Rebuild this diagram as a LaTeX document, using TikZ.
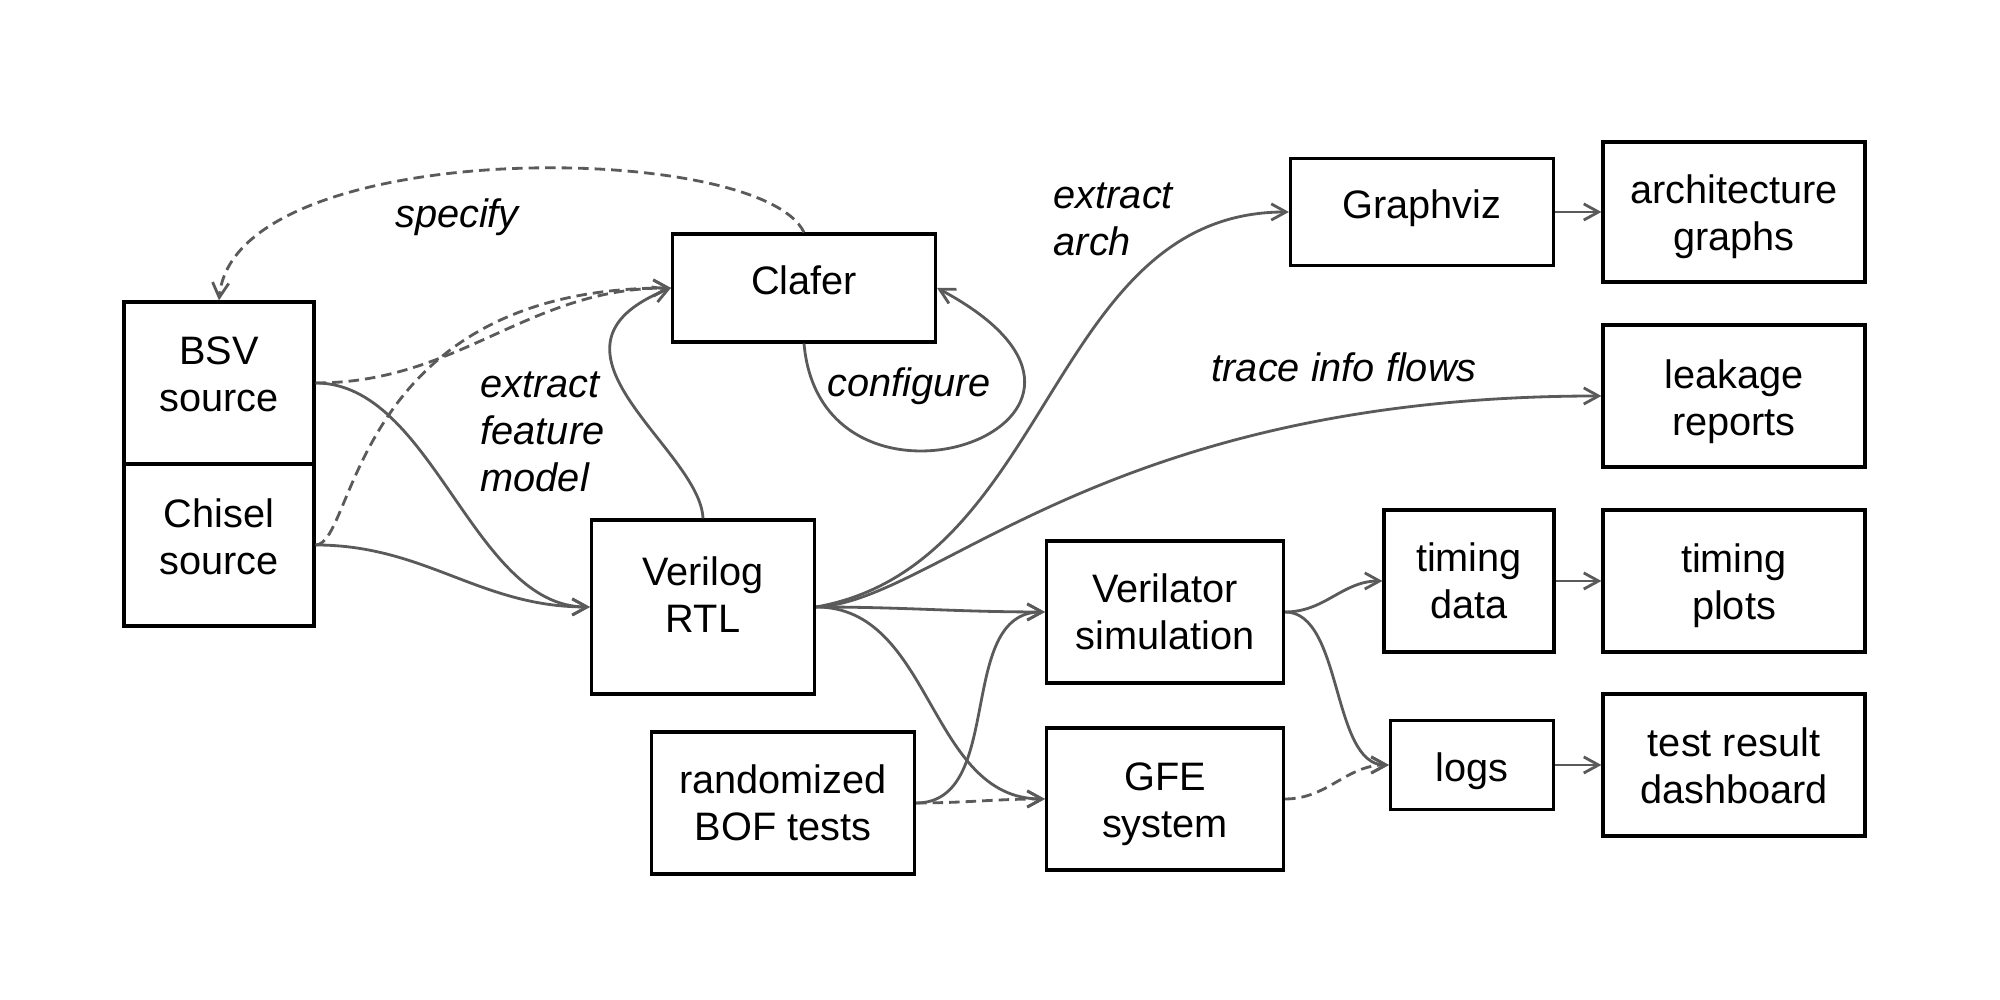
\documentclass[tikz,border=0pt]{standalone}
\usepackage{fontspec}
\setmainfont{Liberation Sans}
\usepackage{tikz}
\usetikzlibrary{arrows.meta,positioning}
\definecolor{edge}{RGB}{90,90,90}

\begin{document}
\begin{tikzpicture}[
        every node/.style={font=\fontsize{11.3}{13.4}\selectfont},
        box/.style={draw=black, line width=0.9pt, inner sep=0pt},
        boxtext/.style={align=center, inner sep=0pt},
        flow/.style={-{Straight Barb[length=4.2pt,width=4.6pt]}, draw=edge, line width=0.8pt},
        dflow/.style={flow, dash pattern=on 3pt off 1.7pt},
        note/.style={font=\fontsize{11.3}{13.4}\selectfont\itshape, align=left, inner sep=0pt}
    ]
        \useasboundingbox (0,0) rectangle (20,10);

        % Sources
        \node[box, minimum width=1.9cm, minimum height=1.62cm,
              label={[boxtext, yshift=0.09cm]center:BSV\\source}] (bsv) at (2.19,6.17) {};
        \node[box, minimum width=1.9cm, minimum height=1.62cm,
              label={[boxtext, yshift=0.08cm]center:Chisel\\source}] (chisel) at (2.19,4.55) {};
        \node[box, minimum width=2.63cm, minimum height=1.08cm,
              label={[boxtext, yshift=0.08cm]center:Clafer}] (clafer) at (8.04,7.12) {};
        \node[box, minimum width=2.23cm, minimum height=1.74cm,
              label={[boxtext, yshift=0.12cm]center:Verilog\\RTL}] (verilog) at (7.03,3.93) {};
        \node[box, minimum width=2.63cm, minimum height=1.42cm,
              label={[boxtext]center:randomized\\BOF tests}] (bof) at (7.83,1.97) {};

        % Tools
        \node[box, minimum width=2.37cm, minimum height=1.42cm,
              label={[boxtext]center:Verilator\\simulation}] (verilator) at (11.65,3.88) {};
        \node[box, minimum width=2.37cm, minimum height=1.42cm,
              label={[boxtext, yshift=-0.05cm]center:GFE\\system}] (gfe) at (11.65,2.01) {};
        \node[box, minimum width=2.63cm, minimum height=1.07cm,
              label={[boxtext, yshift=0.04cm]center:Graphviz}] (graphviz) at (14.22,7.88) {};
        \node[box, minimum width=1.7cm, minimum height=1.42cm,
              label={[boxtext]center:timing\\data}] (tdata) at (14.69,4.19) {};
        \node[box, minimum width=1.63cm, minimum height=0.89cm,
              label={[boxtext, yshift=-0.06cm]center:logs}] (logs) at (14.72,2.35) {};

        % Outputs
        \node[box, minimum width=2.62cm, minimum height=1.4cm,
              label={[boxtext, yshift=-0.05cm]center:architecture\\graphs}] (arch) at (17.34,7.88) {};
        \node[box, minimum width=2.62cm, minimum height=1.42cm,
              label={[boxtext, yshift=-0.06cm]center:leakage\\reports}] (leakage) at (17.34,6.04) {};
        \node[box, minimum width=2.62cm, minimum height=1.42cm,
              label={[boxtext, yshift=-0.05cm]center:timing\\plots}] (tplots) at (17.34,4.19) {};
        \node[box, minimum width=2.62cm, minimum height=1.42cm,
              label={[boxtext, yshift=-0.01cm]center:test result\\dashboard}] (dash) at (17.34,2.35) {};

        % Labels
        \node[note, anchor=base] (specifylbl) at (4.57,7.72) {specify};
        \node[note, anchor=west] (extractlbl) at (4.8,5.68) {extract\\feature\\model};
        \node[note, anchor=base] (configlbl) at (9.09,6.03) {configure};
        \node[note, anchor=west] (archlbl) at (10.53,7.81) {extract\\arch};
        \node[note, anchor=base west] (tracelbl) at (12.11,6.18) {trace info flows};

        % Feature model
        \draw[dflow] (clafer.north) .. controls +(-0.44,0.93) and +(0.15,1.65) .. (bsv.north);
        \draw[dflow] (bsv.east) to[out=0,in=180] (clafer.west);
        \draw[dflow] (chisel.east) .. controls +(0.4,0) and +(-3.2,0) .. (clafer.west);
        \draw[flow] (verilog.north) .. controls +(-0.03,0.7) and +(-1.5,-0.6) .. (clafer.west);
        \draw[flow] (clafer.south) .. controls +(0.18,-2.05) and +(2.47,-1.32) .. (clafer.east);

        % Compile to Verilog
        \draw[flow] (bsv.east) to[out=0,in=180,looseness=0.85] (verilog.west);
        \draw[flow] (chisel.east) to[out=0,in=180] (verilog.west);

        % From Verilog
        \draw[flow] (verilog.east) to[out=10,in=180] (graphviz.west);
        \draw[flow] (verilog.east) .. controls +(1.2,0.05) and +(-5.0,0) .. (leakage.west);
        \draw[flow] (verilog.east) to[out=0,in=180] (verilator.west);
        \draw[flow] (verilog.east) to[out=0,in=180] (gfe.west);

        % Tests
        \draw[flow] (bof.east) to[out=0,in=180] (verilator.west);
        \draw[dflow] (bof.east) to[out=0,in=180] (gfe.west);
        \draw[flow] (verilator.east) to[out=0,in=180] (tdata.west);
        \draw[flow] (verilator.east) to[out=0,in=180,looseness=0.8] (logs.west);
        \draw[dflow] (gfe.east) to[out=0,in=180] (logs.west);

        % Results
        \draw[flow] (graphviz) -- (arch);
        \draw[flow] (tdata) -- (tplots);
        \draw[flow] (logs.east) -- (dash.west);
    \end{tikzpicture}
\end{document}
